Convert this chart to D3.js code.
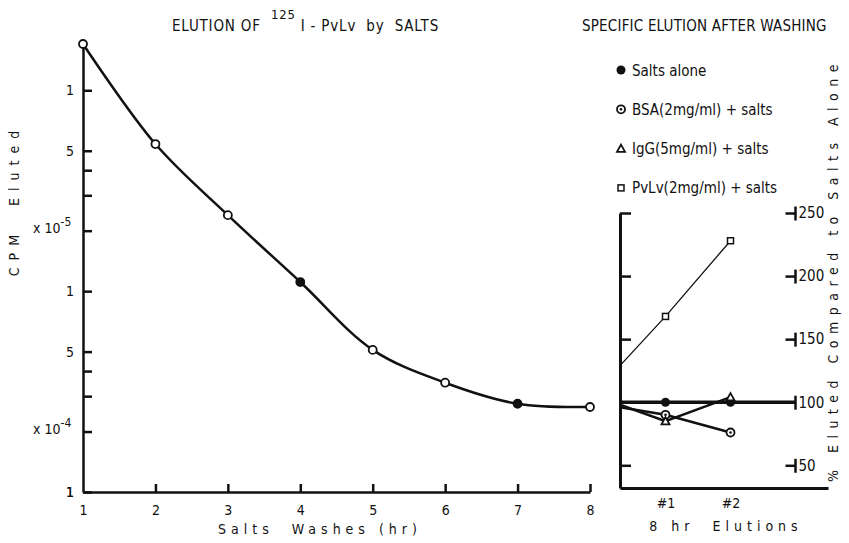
<!DOCTYPE html>
<html>
<head>
<meta charset="utf-8">
<script src="https://cdn.jsdelivr.net/npm/d3@7"></script>
<style>
  body { margin: 0; background: #fff; }
  text { font-family: "DejaVu Sans Condensed", "Liberation Sans Narrow", sans-serif; fill: #111; }
</style>
</head>
<body>
<div id="chart"></div>
<script>
// left panel: elution of 125I-PvLv by salts
const washHours = [1, 2, 3, 4, 5, 6, 7, 8];
const cpmEluted = [170, 54, 23.9, 11.1, 5.1, 3.5, 2.75, 2.65];
const filledWashes = [4, 7];
const cpmTicks = [1, 2, 3, 4, 5, 10, 20, 30, 40, 50, 100];
const cpmLabels = { 1: '1', 5: '5', 10: '1', 50: '5', 100: '1' };

// right panel: specific elution after washing (% of salts alone)
const elutionX = [0.3, 1, 2];
const seriesNames = ['Salts alone', 'BSA(2mg/ml) + salts', 'IgG(5mg/ml) + salts', 'PvLv(2mg/ml) + salts'];
const seriesMarkers = ['dot', 'circledot', 'triangle', 'square'];
const saltsAlone = [100, 100, 100];
const bsaSalts = [96, 90, 76];
const iggSalts = [98, 85, 104];
const pvlvSalts = [129, 168, 228];
const pctTicks = [50, 100, 150, 200, 250];

const W = 849, H = 543;
const svg = d3.select('#chart').append('svg')
  .attr('width', W)
  .attr('height', H);

const ink = '#111';

// ---- scales
const x = d3.scaleLinear().domain([1, 8]).range([83, 590]);
const y = d3.scaleLog().domain([1, 170]).range([492, 44]);
const xR = d3.scaleLinear().domain([0.3, 3.5]).range([620, 828]);
const yR = d3.scaleLinear().domain([32, 250]).range([488, 213]);

function styleAxis(g, width) {
  g.selectAll('.domain').attr('stroke', ink).attr('stroke-width', width);
  g.selectAll('.tick line').attr('stroke', ink).attr('stroke-width', 2.5);
  g.selectAll('.tick text').style('font-size', '14px').attr('fill', ink);
}

// ---- left panel axes
const yAxis = d3.axisLeft(y)
  .tickValues(cpmTicks)
  .tickSizeInner(-9)
  .tickSizeOuter(0)
  .tickPadding(9)
  .tickFormat(d => cpmLabels[d] || '');

svg.append('g')
  .attr('transform', `translate(${x(1)},0)`)
  .call(yAxis)
  .call(g => styleAxis(g, 2.5));

const xAxis = d3.axisBottom(x)
  .tickValues(washHours)
  .tickSizeInner(-8)
  .tickSizeOuter(0)
  .tickPadding(13)
  .tickFormat(d3.format('d'));

svg.append('g')
  .attr('transform', `translate(0,${y(1)})`)
  .call(xAxis)
  .call(g => styleAxis(g, 2.5))
  .call(g => g.select('.tick line').remove());

// extra "1" at bottom of y axis
svg.append('text')
  .attr('x', x(1) - 13).attr('y', y(1) + 5)
  .attr('text-anchor', 'middle')
  .style('font-size', '14px')
  .text('1');

// decade multipliers
[[20, '-5'], [2, '-4']].forEach(([v, e]) => {
  const t = svg.append('text')
    .attr('x', 33).attr('y', y(v) + 2)
    .style('font-size', '14px');
  t.append('tspan').text('x 10');
  t.append('tspan').attr('dy', -7).style('font-size', '12px').text(e);
});

// curve
const cpmPoints = washHours.map((h, i) => ({ h, v: cpmEluted[i] }));
svg.append('path')
  .datum(cpmPoints)
  .attr('fill', 'none')
  .attr('stroke', ink)
  .attr('stroke-width', 2.5)
  .attr('d', d3.line().x(d => x(d.h)).y(d => y(d.v)).curve(d3.curveCatmullRom.alpha(0.5)));

svg.append('g').selectAll('circle')
  .data(cpmPoints)
  .join('circle')
  .attr('cx', d => x(d.h))
  .attr('cy', d => y(d.v))
  .attr('r', 4)
  .attr('fill', d => filledWashes.includes(d.h) ? ink : '#fff')
  .attr('stroke', ink)
  .attr('stroke-width', 1.8);

// left titles
const t1 = svg.append('text')
  .attr('x', 172).attr('y', 31)
  .style('font-size', '15px')
  .style('letter-spacing', '0.8px')
  .attr('xml:space', 'preserve');
t1.append('tspan').text('ELUTION OF  ');
t1.append('tspan').attr('dy', -12).style('font-size', '13px').text('125');
t1.append('tspan').attr('dy', 12).text(' I - PvLv  by  SALTS');

svg.append('text')
  .attr('transform', 'translate(19,200) rotate(-90)')
  .attr('text-anchor', 'middle')
  .style('font-size', '14px')
  .style('letter-spacing', '7px')
  .attr('xml:space', 'preserve')
  .text('CPM  Eluted');

svg.append('text')
  .attr('x', 320).attr('y', 534)
  .attr('text-anchor', 'middle')
  .style('font-size', '14px')
  .style('letter-spacing', '5px')
  .attr('xml:space', 'preserve')
  .text('Salts  Washes (hr)');

// ---- right panel
function drawMarker(g, type, cx, cy) {
  if (type === 'dot') {
    g.append('circle').attr('cx', cx).attr('cy', cy).attr('r', 4.5).attr('fill', ink);
  } else if (type === 'circledot') {
    g.append('circle').attr('cx', cx).attr('cy', cy).attr('r', 4)
      .attr('fill', '#fff').attr('stroke', ink).attr('stroke-width', 1.8);
    g.append('circle').attr('cx', cx).attr('cy', cy).attr('r', 1.3).attr('fill', ink);
  } else if (type === 'triangle') {
    const s = 4;
    g.append('path')
      .attr('d', `M${cx},${cy - s}L${cx + s},${cy + s * 0.8}L${cx - s},${cy + s * 0.8}Z`)
      .attr('fill', '#fff').attr('stroke', ink).attr('stroke-width', 1.8);
  } else {
    g.append('rect').attr('x', cx - 3).attr('y', cy - 3).attr('width', 6).attr('height', 6)
      .attr('fill', '#fff').attr('stroke', ink).attr('stroke-width', 1.5);
  }
}

svg.append('text')
  .attr('x', 582).attr('y', 31)
  .style('font-size', '15px')
  .style('letter-spacing', '0.2px')
  .text('SPECIFIC ELUTION AFTER WASHING');

// legend
const legend = svg.append('g');
seriesNames.forEach((name, i) => {
  const ly = 70 + i * 39.3;
  drawMarker(legend, seriesMarkers[i], 621, ly);
  legend.append('text')
    .attr('x', 632).attr('y', ly + 1)
    .attr('dominant-baseline', 'middle')
    .style('font-size', '15px')
    .text(name);
});

// right panel axes
svg.append('g')
  .attr('transform', `translate(${xR(0.3)},0)`)
  .call(d3.axisRight(yR).tickValues(pctTicks).tickSizeInner(11).tickSizeOuter(0).tickFormat(''))
  .call(g => styleAxis(g, 3));

svg.append('g')
  .attr('transform', `translate(0,${yR(32)})`)
  .call(d3.axisBottom(xR).tickValues([1, 2]).tickSize(0).tickPadding(10).tickFormat(d => '#' + d))
  .call(g => styleAxis(g, 3));

const rightAxis = svg.append('g')
  .attr('transform', `translate(${xR(3)},0)`)
  .call(d3.axisRight(yR).tickValues(pctTicks).tickSizeInner(-10).tickSizeOuter(0).tickPadding(3))
  .call(g => styleAxis(g, 0));
rightAxis.select('.domain').remove();
rightAxis.selectAll('.tick text').style('font-size', '15px');
rightAxis.selectAll('.tick').append('line')
  .attr('x1', 0).attr('x2', 0).attr('y1', -7).attr('y2', 7)
  .attr('stroke', ink).attr('stroke-width', 2.5);

// series lines
const lineR = d3.line().x(d => xR(d.x)).y(d => yR(d.v));
const seriesData = [saltsAlone, bsaSalts, iggSalts, pvlvSalts].map(vals =>
  elutionX.map((ex, i) => ({ x: ex, v: vals[i] })));
// salts alone baseline runs across to the right axis
seriesData[0].push({ x: 3, v: saltsAlone[saltsAlone.length - 1] });

seriesData.forEach((pts, i) => {
  svg.append('path')
    .datum(pts)
    .attr('fill', 'none')
    .attr('stroke', ink)
    .attr('stroke-width', i === 0 ? 3.5 : i === 3 ? 1.3 : 2.5)
    .attr('d', lineR);
});

const markG = svg.append('g');
seriesData.forEach((pts, i) => {
  pts.filter(p => p.x === 1 || p.x === 2).forEach(p => {
    drawMarker(markG, seriesMarkers[i], xR(p.x), yR(p.v));
  });
});

svg.append('text')
  .attr('x', 726).attr('y', 531)
  .attr('text-anchor', 'middle')
  .style('font-size', '14px')
  .style('letter-spacing', '5px')
  .attr('xml:space', 'preserve')
  .text('8 hr  Elutions');

svg.append('text')
  .attr('transform', 'translate(838,270) rotate(-90)')
  .attr('text-anchor', 'middle')
  .style('font-size', '14px')
  .style('letter-spacing', '6.5px')
  .attr('xml:space', 'preserve')
  .text('% Eluted Compared to Salts Alone');
</script>
</body>
</html>
